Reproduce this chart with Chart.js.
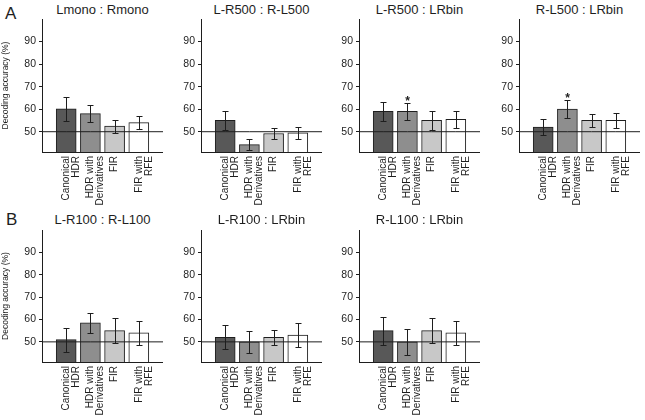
<!DOCTYPE html>
<html>
<head>
<meta charset="utf-8">
<script src="https://cdn.jsdelivr.net/npm/chart.js@4"></script>
<style>
  body { margin: 0; background: #fff; width: 645px; height: 420px; position: relative; overflow: hidden;
         font-family: "Liberation Sans", Arial, sans-serif; color: #1e1e1e; }
  canvas { position: absolute; }
  .ttl { position: absolute; font-size: 13px; line-height: 14px; text-align: center; width: 121px; white-space: nowrap; }
  .letter { position: absolute; font-size: 17px; line-height: 17px; }
</style>
</head>
<body>
<div class="letter" style="left:5px;top:5px">A</div>
<div class="letter" style="left:6px;top:211px">B</div>

<script>
// ---- data -------------------------------------------------------------
const methods = [['Canonical', 'HDR'], ['HDR with', 'Derivatives'], 'FIR', ['FIR with', 'RFE']];
const barColors = ['#585858', '#8e8e8e', '#c8c8c8', '#ffffff'];
const yTicks = [50, 60, 70, 80, 90];
const yMin = 41, yMax = 100;
const chanceLevel = 50;

const titles = ['Lmono : Rmono', 'L-R500 : R-L500', 'L-R500 : LRbin', 'R-L500 : LRbin',
                'L-R100 : R-L100', 'L-R100 : LRbin', 'R-L100 : LRbin'];

// mean decoding accuracy (%) and error (+/-) per method
const accLmonoRmono = [60.1, 58.0, 52.5, 54.0];
const errLmonoRmono = [5.4, 3.8, 2.9, 2.8];
const accLR500RL500 = [55.0, 44.3, 49.2, 49.5];
const errLR500RL500 = [4.1, 2.4, 2.4, 2.7];
const accLR500Bin = [59.0, 59.0, 55.0, 55.5];
const errLR500Bin = [4.1, 3.7, 4.3, 3.7];
const accRL500Bin = [52.0, 60.0, 55.0, 55.0];
const errRL500Bin = [3.5, 4.1, 2.7, 3.3];
const accLR100RL100 = [51.0, 58.5, 55.0, 54.0];
const errLR100RL100 = [5.4, 4.4, 5.5, 5.3];
const accLR100Bin = [52.0, 50.0, 52.0, 53.0];
const errLR100Bin = [5.4, 4.8, 3.2, 5.3];
const accRL100Bin = [55.0, 50.0, 55.0, 54.0];
const errRL100Bin = [6.2, 5.9, 5.6, 5.5];

// significance markers (index of starred method, per panel)
const starsLR500Bin = [1];
const starsRL500Bin = [1];

// ---- layout -----------------------------------------------------------
const colLeft = [0, 159, 317, 477];
const rowTop = [0, 211];
const rowHeight = [205, 209];
const xAxisHeight = [53, 58];
const yAxisWidth = 42;
const plotWidth = 121;

const panels = [
  { acc: accLmonoRmono, err: errLmonoRmono, stars: [], row: 0, col: 0 },
  { acc: accLR500RL500, err: errLR500RL500, stars: [], row: 0, col: 1 },
  { acc: accLR500Bin, err: errLR500Bin, stars: starsLR500Bin, row: 0, col: 2 },
  { acc: accRL500Bin, err: errRL500Bin, stars: starsRL500Bin, row: 0, col: 3 },
  { acc: accLR100RL100, err: errLR100RL100, stars: [], row: 1, col: 0 },
  { acc: accLR100Bin, err: errLR100Bin, stars: [], row: 1, col: 1 },
  { acc: accRL100Bin, err: errRL100Bin, stars: [], row: 1, col: 2 }
];

const ink = '#1e1e1e';

const errorBars = {
  id: 'errorBars',
  afterDatasetsDraw(chart, args, opts) {
    const meta = chart.getDatasetMeta(0);
    const y = chart.scales.y;
    const vals = chart.data.datasets[0].data;
    const ctx = chart.ctx;
    ctx.save();
    ctx.strokeStyle = ink;
    ctx.lineWidth = 1;
    meta.data.forEach((bar, i) => {
      const e = opts.err[i];
      if (e == null) return;
      const x = Math.round(bar.x) + 0.5;
      const top = Math.round(y.getPixelForValue(vals[i] + e)) + 0.5;
      const bot = Math.round(y.getPixelForValue(vals[i] - e)) + 0.5;
      ctx.beginPath();
      ctx.moveTo(x, top); ctx.lineTo(x, bot);
      ctx.moveTo(x - 3, top); ctx.lineTo(x + 3, top);
      ctx.moveTo(x - 3, bot); ctx.lineTo(x + 3, bot);
      ctx.stroke();
      if (opts.stars[i]) {
        ctx.fillStyle = ink;
        ctx.font = 'bold 12px "Liberation Sans", Arial';
        ctx.textAlign = 'center';
        ctx.textBaseline = 'alphabetic';
        ctx.fillText('*', x, top + 1);
      }
    });
    ctx.restore();
  }
};

panels.forEach((p, k) => {
  const left = colLeft[p.col];
  const top = rowTop[p.row];
  const h = rowHeight[p.row];

  const title = document.createElement('div');
  title.className = 'ttl';
  title.textContent = titles[k];
  title.style.left = (left + yAxisWidth) + 'px';
  title.style.top = (top + (p.row === 0 ? 3 : 2)) + 'px';
  document.body.appendChild(title);

  const canvas = document.createElement('canvas');
  canvas.width = yAxisWidth + plotWidth;
  canvas.height = h;
  canvas.style.left = left + 'px';
  canvas.style.top = top + 'px';
  document.body.appendChild(canvas);

  // pad with empty slots at both ends so bars sit at 1..4 on a 0..5 axis
  const labels = ['', ...methods, ''];
  const vals = [null, ...p.acc, null];
  const errs = [null, ...p.err, null];
  const stars = labels.map((_, i) => p.stars.includes(i - 1));

  new Chart(canvas, {
    data: {
      labels,
      datasets: [
        {
          type: 'bar',
          data: vals,
          backgroundColor: ['#fff', ...barColors, '#fff'],
          borderColor: ink,
          borderWidth: 1,
          barThickness: 20,
          order: 2
        },
        {
          type: 'line',
          data: labels.map(() => chanceLevel),
          borderColor: ink,
          borderWidth: 1,
          pointRadius: 0,
          order: 1
        }
      ]
    },
    options: {
      responsive: false,
      animation: false,
      devicePixelRatio: 1,
      layout: { padding: { top: 19, right: 0, left: 0, bottom: 0 } },
      plugins: {
        legend: { display: false },
        tooltip: { enabled: false },
        errorBars: { err: errs, stars }
      },
      scales: {
        x: {
          offset: false,
          grid: { display: true, drawOnChartArea: false, drawTicks: false },
          border: { display: true, color: ink, width: 1 },
          ticks: {
            autoSkip: false, minRotation: 90, maxRotation: 90, padding: 4,
            color: ink, font: { family: '"Liberation Sans", Arial', size: 10, lineHeight: 1.0 }
          },
          afterFit: s => {
            s.height = xAxisHeight[p.row];
            s.paddingLeft = 0;
            s.paddingRight = 0;
          }
        },
        y: {
          min: yMin, max: yMax,
          afterBuildTicks: s => { s.ticks = yTicks.map(v => ({ value: v })); },
          grid: { drawOnChartArea: false, tickLength: 3, color: ink },
          border: { display: true, color: ink, width: 1 },
          ticks: { color: ink, padding: 3, font: { family: '"Liberation Sans", Arial', size: 10.5 } },
          title: {
            display: p.col === 0,
            text: 'Decoding accuracy (%)',
            color: ink,
            padding: { top: 1, bottom: 0 },
            font: { family: '"Liberation Sans", Arial', size: 8.5 }
          },
          afterFit: s => {
            s.width = yAxisWidth;
            s.paddingTop = 0;
            s.paddingBottom = 0;
          }
        }
      }
    },
    plugins: [errorBars]
  });
});
</script>
</body>
</html>
